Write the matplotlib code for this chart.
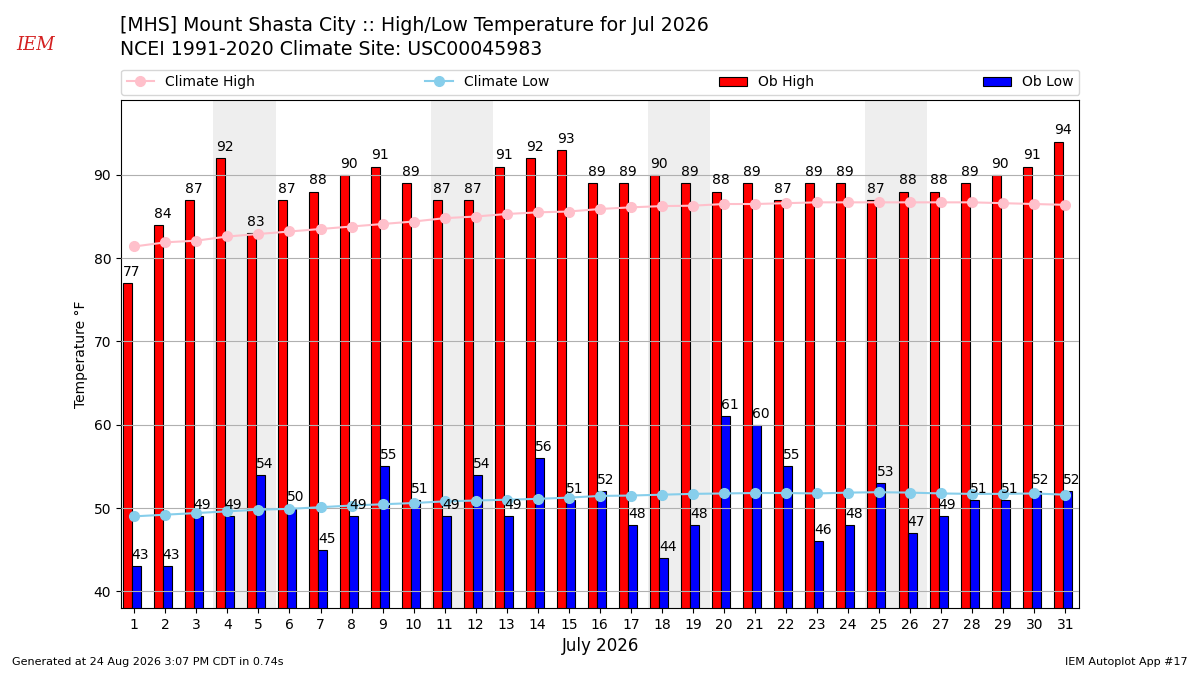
import matplotlib
matplotlib.use("Agg")
import matplotlib.pyplot as plt
import numpy as np

days = list(range(1, 32))
ob_high = [77, 84, 87, 92, 83, 87, 88, 90, 91, 89, 87, 87, 91, 92, 93, 89,
           89, 90, 89, 88, 89, 87, 89, 89, 87, 88, 88, 89, 90, 91, 94]
ob_low = [43, 43, 49, 49, 54, 50, 45, 49, 55, 51, 49, 54, 49, 56, 51, 52,
          48, 44, 48, 61, 60, 55, 46, 48, 53, 47, 49, 51, 51, 52, 52]
climate_high = [81.4, 81.9, 82.1, 82.6, 82.9, 83.2, 83.5, 83.8, 84.1, 84.4,
                84.8, 85.0, 85.3, 85.5, 85.6, 85.9, 86.1, 86.25, 86.3, 86.5,
                86.5, 86.6, 86.7, 86.7, 86.7, 86.7, 86.7, 86.7, 86.6, 86.5, 86.4]
climate_low = [49.0, 49.2, 49.4, 49.6, 49.8, 49.9, 50.1, 50.3, 50.45, 50.6,
               50.8, 50.9, 51.0, 51.1, 51.25, 51.45, 51.5, 51.6, 51.7, 51.75,
               51.8, 51.8, 51.75, 51.85, 51.9, 51.85, 51.75, 51.7, 51.7, 51.75, 51.6]
weekend_starts = [4, 11, 18, 25]

title1 = "[MHS] Mount Shasta City :: High/Low Temperature for Jul 2026"
title2 = "NCEI 1991-2020 Climate Site: USC00045983"

fig = plt.figure(figsize=(12, 6.75), dpi=100)
ax = fig.add_axes([0.1008, 0.0993, 0.7986, 0.7527])

x = np.array(days, dtype=float)
for d in weekend_starts:
    ax.axvspan(d - 0.45, d + 1.55, color="#eeeeee", zorder=0, lw=0)

ax.bar(x - 0.375, ob_high, width=0.29, align="edge", color="red",
       edgecolor="black", linewidth=0.8, label="Ob High", zorder=2)
ax.bar(x - 0.085, ob_low, width=0.29, align="edge", color="blue",
       edgecolor="black", linewidth=0.8, label="Ob Low", zorder=2)
ax.plot(x, climate_high, color="pink", marker="o", markersize=7, lw=1.5,
        label="Climate High", zorder=4)
ax.plot(x, climate_low, color="skyblue", marker="o", markersize=7, lw=1.5,
        label="Climate Low", zorder=4)

for xi, v in zip(x, ob_high):
    ax.text(xi - 0.375, v + 0.5, f"{v}", ha="left", va="bottom", fontsize=10, zorder=5)
for xi, v in zip(x, ob_low):
    ax.text(xi - 0.085, v + 0.5, f"{v}", ha="left", va="bottom", fontsize=10, zorder=5)

ax.set_xlim(0.57, 31.45)
ax.set_ylim(38, 99)
ax.set_xticks(days)
ax.set_yticks([40, 50, 60, 70, 80, 90])
ax.yaxis.grid(True, color="#b0b0b0", lw=0.8, zorder=3)
ax.set_axisbelow(False)
ax.set_ylabel("Temperature °F")
ax.set_xlabel("July 2026", fontsize=12)

handles, labels = ax.get_legend_handles_labels()
want = ["Climate High", "Climate Low", "Ob High", "Ob Low"]
hmap = dict(zip(labels, handles))
ax.legend([hmap[k] for k in want], want,
          loc="lower left", bbox_to_anchor=(0, 1.01, 1, 0.05), mode="expand",
          ncol=4, fontsize=10, borderaxespad=0)

fig.text(0.1, 0.962, title1, fontsize=13.6, ha="left", va="center")
fig.text(0.1, 0.927, title2, fontsize=13.6, ha="left", va="center")
fig.text(0.03, 0.933, "IEM", fontsize=13, color="#d42020", style="italic",
         family="DejaVu Serif", ha="center", va="center")
fig.text(0.01, 0.015, "Generated at 24 Aug 2026 3:07 PM CDT in 0.74s", fontsize=8, ha="left")
fig.text(0.99, 0.015, "IEM Autoplot App #17", fontsize=8, ha="right")

fig.savefig("out.png", dpi=100)
